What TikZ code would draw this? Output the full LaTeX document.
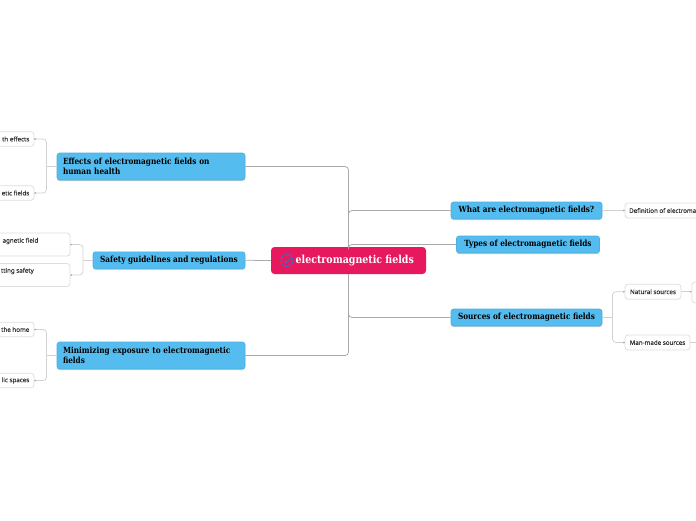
\documentclass[tikz,border=0pt]{standalone}
\usepackage{fontspec}
\setmainfont{Liberation Serif}
\newfontfamily\slabf[FakeStretch=0.86]{DejaVu Serif}
\newfontfamily\smallf[FakeBold=0.25]{Noto Sans}
\usetikzlibrary{arrows.meta,shadows}
\definecolor{mainblue}{HTML}{54BCEE}
\definecolor{blueedge}{HTML}{4DB0E2}
\definecolor{rootpink}{HTML}{E8185F}
\definecolor{linegray}{HTML}{A9A9A9}
\definecolor{lightline}{HTML}{D2D2D2}
\definecolor{boxedge}{HTML}{DEDEDE}
\definecolor{smalltext}{HTML}{333333}
\definecolor{iconblue}{HTML}{3F6BC4}
\newcommand{\smallsize}{\smallf\fontsize{6.2}{7.4}\selectfont}
\tikzset{
 rootbox/.style={fill=rootpink,draw=none,rounded corners=3.5pt,minimum width=155pt,minimum height=27pt,inner sep=0pt,text=white},
 bluebox/.style={fill=mainblue,draw=blueedge,line width=.6pt,rounded corners=2.5pt,inner sep=0pt,text=black,font=\slabf\bfseries\fontsize{8.5}{10}\selectfont,drop shadow={shadow xshift=0pt,shadow yshift=-1pt,opacity=.35}},
 smallbox/.style={fill=white,draw=boxedge,line width=.8pt,rounded corners=3pt,inner sep=0pt,text=smalltext,font=\smallsize},
 conn/.style={draw=linegray,line width=.75pt,rounded corners=3.5pt},
 lconn/.style={draw=lightline,line width=.75pt,rounded corners=3.5pt},
 dotend/.style={-{Circle[length=1.6pt,color=linegray,fill=linegray]}},
 lab/.style={inner sep=0pt,anchor=west,font=\smallsize,text=smalltext},
 rlab/.style={inner sep=0pt,anchor=east,font=\smallsize,text=smalltext},
}
\begin{document}
\begin{tikzpicture}[x=1pt,y=-1pt]
\useasboundingbox (0,0) rectangle (696,520);
\clip (0,0) rectangle (696,520);
\fill[white] (0,0) rectangle (696,520);

% connectors are drawn after the nodes are placed, so nodes come first
\node[rootbox,anchor=center] (central) at (348.5,260.5) {};
\node[bluebox,minimum width=188pt,minimum height=27pt,text width=176pt,align=left] (effects) at (151,166.5) {Effects of electromagnetic fields on\\human health};
\node[bluebox,minimum width=152pt,minimum height=17pt] (safety) at (169,260.3) {Safety guidelines and regulations};
\node[bluebox,minimum width=188pt,minimum height=27pt,text width=176pt,align=left] (minimizing) at (151,355.5) {Minimizing exposure to electromagnetic\\fields};
\node[bluebox,minimum width=151pt,minimum height=17pt] (what) at (526.5,210.5) {What are electromagnetic fields?};
\node[bluebox,minimum width=143pt,minimum height=17pt] (types) at (528,244.5) {Types of electromagnetic fields};
\node[bluebox,minimum width=151pt,minimum height=17pt] (sources) at (526.5,317.5) {Sources of electromagnetic fields};

% small nodes
\node[smallbox,minimum width=74pt,minimum height=14.5pt] (he) at (-3,139) {};
\node[smallbox,minimum width=74pt,minimum height=14.5pt] (ef) at (-3,193) {};
\node[smallbox,minimum width=110pt,minimum height=23pt] (sg) at (15,244.5) {};
\node[smallbox,minimum width=110pt,minimum height=23pt] (ss) at (15,275) {};
\node[smallbox,minimum width=74pt,minimum height=14.5pt] (mh) at (-3,329.5) {};
\node[smallbox,minimum width=74pt,minimum height=14.5pt] (mp) at (-3,380.5) {};
\node[smallbox,minimum width=120pt,minimum height=15pt] (def) at (685,210.5) {};
\node[smallbox,minimum width=56pt,minimum height=15pt] (nat) at (653,291.7) {Natural sources};
\node[smallbox,minimum width=65pt,minimum height=15pt] (man) at (657.5,342.5) {Man-made sources};
\node[smallbox,minimum width=60pt,minimum height=21pt] (nx) at (722,292.5) {};

% labels as far as the picture shows them
\node[rlab] (t1) at (29.5,139) {th effects};
\node[rlab] (t2) at (29.5,193) {etic fields};
\node[rlab] (t3) at (38.5,241) {agnetic field};
\node[rlab] (t4) at (34,271) {tting safety};
\node[rlab] (t5) at (29.5,329.5) {the home};
\node[rlab] (t6) at (29.5,380.5) {lic spaces};
\node[lab] (t7) at (629,210.5) {Definition of electroma};

% root label and icon
\node[inner sep=0pt,anchor=west,text=white,font=\slabf\bfseries\fontsize{11}{12}\selectfont] (rootlabel) at (295.5,260.3) {electromagnetic fields};
\node[circle,draw=iconblue,line width=.8pt,minimum size=12pt,inner sep=0pt] (icon) at (287,260.5) {};
\draw[iconblue,line width=.8pt] (283.6,260.6) -- (286.2,263) -- (290.6,258);

% trunk
\draw[conn] (effects.east) -| (central.north);
\draw[conn] (central.north) |- (what.west);
\draw[conn] (central.north) |- (types.west);
\draw[conn] (central.south) |- (sources.west);
\draw[conn] (central.south) |- (minimizing.east);
\draw[conn] (central.west) -- (safety.east);

% left brackets
\coordinate (bl1) at (46.5,166.5);
\coordinate (bl2) at (83,260.3);
\coordinate (bl3) at (46.5,355.5);
\draw[lconn] (effects.west) -- (bl1);
\draw[lconn,dotend] (bl1) |- (he.east);
\draw[lconn,dotend] (bl1) |- (ef.east);
\draw[lconn] (safety.west) -- (bl2);
\draw[lconn,dotend] (bl2) |- (sg.east);
\draw[lconn,dotend] (bl2) |- (ss.east);
\draw[lconn] (minimizing.west) -- (bl3);
\draw[lconn,dotend] (bl3) |- (mh.east);
\draw[lconn,dotend] (bl3) |- (mp.east);

% right brackets
\coordinate (br) at (612.5,317.5);
\coordinate (manend) at (696,342.5);
\draw[lconn,dotend] (what.east) -- (def.west);
\draw[lconn] (sources.east) -- (br);
\draw[lconn,dotend] (br) |- (nat.west);
\draw[lconn,dotend] (br) |- (man.west);
\draw[lconn,dotend] (nat.east) -- (nx.west |- nat.east);
\draw[lconn] (man.east) -- (manend);
\end{tikzpicture}
\end{document}
